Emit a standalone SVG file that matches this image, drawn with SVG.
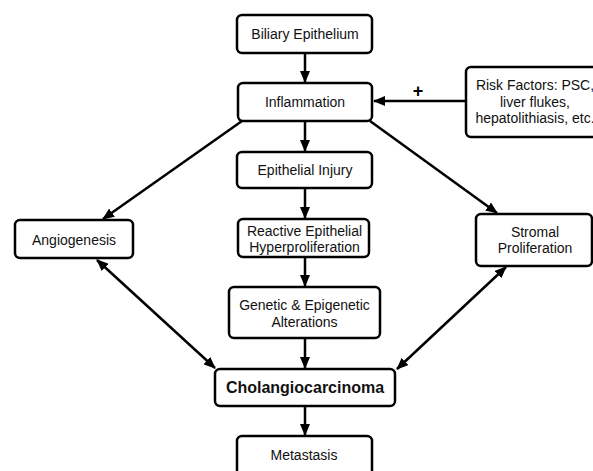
<svg xmlns="http://www.w3.org/2000/svg" width="593" height="471" viewBox="0 0 593 471">
<style>
.box{fill:#fff;stroke:#000;stroke-width:2.5}
.t{font-family:"Liberation Sans",Arial,sans-serif;font-size:14px;fill:#111;text-anchor:middle}
.b{font-weight:bold;font-size:16px}
.c{stroke:#000;stroke-width:2.5;fill:none}
</style>
<defs>
<marker id="ah" markerUnits="userSpaceOnUse" markerWidth="12" markerHeight="10" refX="11" refY="5" orient="auto-start-reverse">
<path d="M0,0 L12,5 L0,10 Z" fill="#000"/>
</marker>
</defs>
<rect width="593" height="471" fill="#fff"/>
<g id="connectors">
<line class="c" x1="305" y1="53" x2="305" y2="82" marker-end="url(#ah)"/>
<line class="c" x1="466" y1="101" x2="374" y2="101" marker-end="url(#ah)"/>
<line class="c" x1="305" y1="122" x2="305" y2="151" marker-end="url(#ah)"/>
<line class="c" x1="305" y1="188" x2="305" y2="218" marker-end="url(#ah)"/>
<line class="c" x1="305" y1="257" x2="305" y2="286" marker-end="url(#ah)"/>
<line class="c" x1="305" y1="338" x2="305" y2="368" marker-end="url(#ah)"/>
<line class="c" x1="305" y1="406" x2="305" y2="435" marker-end="url(#ah)"/>
<line class="c" x1="242" y1="121" x2="103" y2="219" marker-end="url(#ah)"/>
<line class="c" x1="370" y1="121" x2="497" y2="213" marker-end="url(#ah)"/>
<line class="c" x1="97" y1="260" x2="215" y2="368" marker-start="url(#ah)" marker-end="url(#ah)"/>
<line class="c" x1="506" y1="267" x2="397" y2="369" marker-start="url(#ah)" marker-end="url(#ah)"/>
<text class="t" x="418" y="97" style="font-size:18px;font-weight:bold;fill:#000">+</text>
</g>
<g id="biliary"><rect class="box" x="237" y="15" width="135" height="38" rx="5"/><text class="t" x="305" y="39">Biliary Epithelium</text></g>
<g id="inflammation"><rect class="box" x="238" y="83" width="134" height="38" rx="5"/><text class="t" x="305" y="107">Inflammation</text></g>
<g id="risk"><rect class="box" x="466" y="67" width="140" height="70" rx="5"/><text class="t" x="535" y="90">Risk Factors: PSC,</text><text class="t" x="535" y="107">liver flukes,</text><text class="t" x="535" y="123">hepatolithiasis, etc.</text></g>
<g id="injury"><rect class="box" x="237" y="152" width="135" height="36" rx="5"/><text class="t" x="305" y="175">Epithelial Injury</text></g>
<g id="reactive"><rect class="box" x="238" y="219" width="131" height="38" rx="5"/><text class="t" x="304.5" y="236">Reactive Epithelial</text><text class="t" x="304.5" y="252">Hyperproliferation</text></g>
<g id="genetic"><rect class="box" x="229" y="287" width="151" height="51" rx="5"/><text class="t" x="304.5" y="310">Genetic &amp; Epigenetic</text><text class="t" x="304.5" y="327">Alterations</text></g>
<g id="angiogenesis"><rect class="box" x="15" y="220" width="118" height="38" rx="5"/><text class="t" x="74" y="245">Angiogenesis</text></g>
<g id="stromal"><rect class="box" x="476" y="214" width="116" height="52" rx="5"/><text class="t" x="535" y="237">Stromal</text><text class="t" x="535" y="253">Proliferation</text></g>
<g id="cholangiocarcinoma"><rect class="box" x="215" y="369" width="180" height="37" rx="5"/><text class="t b" x="305" y="393">Cholangiocarcinoma</text></g>
<g id="metastasis"><rect class="box" x="237" y="436" width="135" height="40" rx="5"/><text class="t" x="304" y="460">Metastasis</text></g>
</svg>
